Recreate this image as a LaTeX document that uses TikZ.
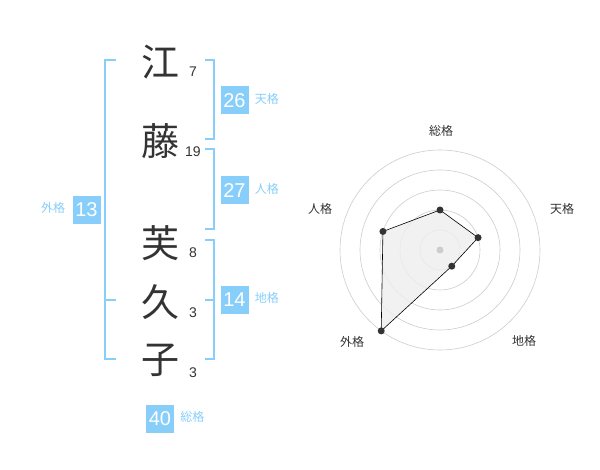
\documentclass[tikz,border=0pt]{standalone}
\usepackage{fontspec}
\setmainfont{Liberation Sans}
\newfontfamily\jp{Noto Sans CJK JP}
\definecolor{sky}{HTML}{87CEFA}
\definecolor{ink}{HTML}{333333}
\definecolor{ring}{HTML}{CCCCCC}
\definecolor{area}{HTML}{EEEEEE}
\begin{document}
\begin{tikzpicture}[x=1pt,y=-1pt,
  kanji/.style={text=ink,font=\jp\fontsize{38}{38}\selectfont,inner sep=0pt},
  stroke/.style={text=ink,font=\fontsize{14}{14}\selectfont,inner sep=0pt},
  numbox/.style={fill=sky,text=white,minimum width=28pt,minimum height=28pt,inner sep=0pt,font=\fontsize{20}{20}\selectfont},
  lab/.style={text=sky,font=\jp\fontsize{12}{12}\selectfont,inner sep=0pt},
  brk/.style={draw=sky,line width=1.4pt},
  rlab/.style={text=ink,font=\jp\fontsize{12}{12}\selectfont,inner sep=0pt},
  dot/.style={circle,fill=ink,inner sep=0pt,minimum size=7pt}]
\useasboundingbox (0,0) rectangle (600,470);
% characters
\node[kanji] (c1) at (160,62) {江};
\node[kanji] (c2) at (160,141) {藤};
\node[kanji] (c3) at (160,243) {芙};
\node[kanji] (c4) at (160,302) {久};
\node[kanji] (c5) at (160,360) {子};
\node[stroke] (s1) at (193,72) {7};
\node[stroke] (s2) at (193,152) {19};
\node[stroke] (s3) at (193,253) {8};
\node[stroke] (s4) at (193,313) {3};
\node[stroke] (s5) at (193,373) {3};
% brackets
\draw[brk] (116,60) -- (105,60) -- (105,359) -- (116,359);
\draw[brk] (105,300) -- (116,300);
\draw[brk] (205,60) -- (214,60) -- (214,139) -- (205,139);
\draw[brk] (205,149) -- (214,149) -- (214,229) -- (205,229);
\draw[brk] (205,240) -- (214,240) -- (214,359) -- (205,359);
\draw[brk] (205,300) -- (214,300);
% boxes
\node[numbox] (b26) at (234.5,100.5) {26};
\node[lab,anchor=west] (l26) at ([xshift=6pt,yshift=2pt]b26.east) {天格};
\node[numbox] (b27) at (234.5,190.5) {27};
\node[lab,anchor=west] (l27) at ([xshift=6pt,yshift=2pt]b27.east) {人格};
\node[numbox] (b14) at (234.5,300) {14};
\node[lab,anchor=west] (l14) at ([xshift=6pt,yshift=2pt]b14.east) {地格};
\node[numbox] (b13) at (86.5,210) {13};
\node[lab,anchor=east] (l13) at ([xshift=-7pt,yshift=2pt]b13.west) {外格};
\node[numbox] (b40) at (160,419) {40};
\node[lab,anchor=west] (l40) at ([xshift=6pt,yshift=2pt]b40.east) {総格};
% radar
\coordinate (ctr) at (440,250);
\foreach \r in {20,40,60,80,100} \draw[ring,line width=0.6pt] (ctr) circle[radius=\r];
\path (ctr) ++(0,-40) coordinate (pS);
\path (ctr) ++({40*cos(18)},{-40*sin(18)}) coordinate (pT);
\path (ctr) ++({20*cos(54)},{20*sin(54)}) coordinate (pC);
\path (ctr) ++({-100*cos(54)},{100*sin(54)}) coordinate (pG);
\path (ctr) ++({-60*cos(18)},{-60*sin(18)}) coordinate (pJ);
\draw[fill=area,fill opacity=0.8,draw=black,line width=0.6pt] (pS) -- (pT) -- (pC) -- (pG) -- (pJ) -- cycle;
\fill[ring] (ctr) circle[radius=3.5];
\foreach \p in {pS,pT,pC,pG,pJ} \node[dot] at (\p) {};
\node[rlab] (rS) at (441,131) {総格};
\node[rlab] (rT) at (562,209) {天格};
\node[rlab] (rC) at (524,341) {地格};
\node[rlab] (rG) at (352,342) {外格};
\node[rlab] (rJ) at (320,209) {人格};
\end{tikzpicture}
\end{document}
